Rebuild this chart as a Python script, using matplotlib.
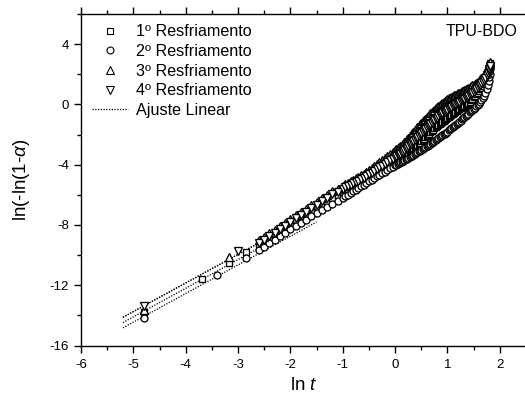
import matplotlib
matplotlib.use("Agg")
import matplotlib.pyplot as plt
from matplotlib.ticker import MultipleLocator
import numpy as np

plt.rcParams['font.family'] = ['Liberation Sans', 'DejaVu Sans']
plt.rcParams['mathtext.fontset'] = 'custom'
plt.rcParams['mathtext.rm'] = 'Liberation Sans'
plt.rcParams['mathtext.it'] = 'Liberation Sans:italic'
plt.rcParams['axes.unicode_minus'] = False

# ---- data: ln t (min) and ln(-ln(1-alpha)) for four cooling runs ----
labels = ["1º Resfriamento", "2º Resfriamento", "3º Resfriamento", "4º Resfriamento"]

# first, sparse points of each run
early_x_1 = [-4.79, -3.69, -3.18, -2.84]
early_y_1 = [-13.80, -11.60, -10.55, -9.80]
early_x_2 = [-4.79, -3.40, -2.84]
early_y_2 = [-14.15, -11.35, -10.20]
early_x_3 = [-4.79, -3.18]
early_y_3 = [-13.65, -10.15]
early_x_4 = [-4.79, -3.00]
early_y_4 = [-13.35, -9.75]

# common ln t sampling of the dense part of the runs
lnt = [-2.6, -2.5, -2.4, -2.3, -2.2, -2.1, -2.0, -1.9, -1.8, -1.7, -1.6, -1.5,
       -1.4, -1.3, -1.2, -1.1,
       -1.0, -0.95, -0.9, -0.85, -0.8, -0.75, -0.7, -0.65, -0.6, -0.55, -0.5,
       -0.45, -0.4, -0.35, -0.3, -0.25, -0.2, -0.15, -0.1, -0.05,
       0.0, 0.025, 0.05, 0.075, 0.1, 0.125, 0.15, 0.175, 0.2, 0.225, 0.25,
       0.275, 0.3, 0.325, 0.35, 0.375, 0.4, 0.425, 0.45, 0.475, 0.5, 0.525,
       0.55, 0.575, 0.6, 0.625, 0.65, 0.675, 0.7, 0.725, 0.75, 0.775, 0.8,
       0.825, 0.85, 0.875, 0.9, 0.925, 0.95, 0.975, 1.0, 1.025, 1.05, 1.075,
       1.1, 1.125, 1.15, 1.175, 1.2, 1.225, 1.25, 1.275, 1.3, 1.325, 1.35,
       1.375, 1.4, 1.425, 1.45, 1.475, 1.5, 1.525, 1.55, 1.575, 1.6, 1.625,
       1.65, 1.675, 1.7, 1.725, 1.75, 1.775,
       1.79, 1.8, 1.81, 1.82]

run_1 = [-9.45, -9.23, -9.00, -8.77, -8.53, -8.29, -8.05, -7.82, -7.59, -7.36,
         -7.13, -6.90, -6.67, -6.45, -6.22, -6.03,
         -5.85, -5.76, -5.67, -5.58, -5.49, -5.40, -5.31, -5.22, -5.13, -5.02,
         -4.90, -4.80, -4.69, -4.59, -4.47, -4.37, -4.26, -4.16, -4.05, -3.95,
         -3.84, -3.80, -3.755, -3.71, -3.66, -3.60, -3.535, -3.46, -3.38, -3.30,
         -3.225, -3.15, -3.07, -2.99, -2.915, -2.84, -2.76, -2.68, -2.605,
         -2.53, -2.45, -2.36, -2.27, -2.185, -2.10, -2.015, -1.93, -1.845,
         -1.76, -1.675, -1.59, -1.51, -1.43, -1.35, -1.28, -1.21, -1.14,
         -1.08, -1.02, -0.96, -0.90, -0.835, -0.77, -0.70, -0.64, -0.57,
         -0.51, -0.45, -0.39, -0.33, -0.27, -0.21, -0.15, -0.09, -0.025,
         0.035, 0.10, 0.19, 0.28, 0.37, 0.47, 0.57, 0.67, 0.77, 0.88, 1.00,
         1.12, 1.25, 1.38, 1.57, 1.77, 2.00,
         2.20, 2.40, 2.60, 2.78]

run_2 = [-9.65, -9.43, -9.20, -8.98, -8.75, -8.52, -8.30, -8.08, -7.86, -7.65,
         -7.43, -7.22, -7.00, -6.80, -6.60, -6.40,
         -6.20, -6.09, -5.98, -5.87, -5.76, -5.65, -5.54, -5.43, -5.32, -5.21,
         -5.10, -4.99, -4.88, -4.78, -4.67, -4.57, -4.46, -4.36, -4.25, -4.15,
         -4.05, -4.00, -3.95, -3.90, -3.85, -3.80, -3.75, -3.70, -3.65, -3.60,
         -3.55, -3.50, -3.45, -3.395, -3.34, -3.285, -3.23, -3.175, -3.12,
         -3.065, -3.01, -2.955, -2.90, -2.845, -2.79, -2.735, -2.68, -2.625,
         -2.57, -2.51, -2.45, -2.385, -2.32, -2.255, -2.19, -2.125, -2.06,
         -1.995, -1.93, -1.865, -1.80, -1.73, -1.66, -1.585, -1.51, -1.44,
         -1.37, -1.295, -1.22, -1.145, -1.07, -0.995, -0.92, -0.84, -0.76,
         -0.685, -0.61, -0.53, -0.45, -0.375, -0.30, -0.215, -0.13, -0.04,
         0.05, 0.16, 0.28, 0.41, 0.55, 0.76, 1.00, 1.30,
         1.55, 1.80, 2.05, 2.35]

run_3 = [-9.00, -8.78, -8.55, -8.32, -8.08, -7.84, -7.60, -7.37, -7.14, -6.91,
         -6.68, -6.45, -6.22, -6.00, -5.77, -5.58,
         -5.40, -5.30, -5.20, -5.10, -5.00, -4.90, -4.80, -4.70, -4.60, -4.48,
         -4.35, -4.22, -4.09, -3.96, -3.82, -3.69, -3.56, -3.43, -3.30, -3.17,
         -3.04, -2.975, -2.91, -2.84, -2.77, -2.69, -2.60, -2.50, -2.40, -2.30,
         -2.20, -2.10, -2.00, -1.90, -1.80, -1.70, -1.60, -1.50, -1.40, -1.30,
         -1.20, -1.11, -1.02, -0.935, -0.85, -0.765, -0.68, -0.595, -0.51,
         -0.425, -0.34, -0.26, -0.18, -0.10, -0.03, 0.04, 0.11, 0.17, 0.23,
         0.29, 0.35, 0.40, 0.45, 0.50, 0.55, 0.60, 0.645, 0.69, 0.735, 0.78,
         0.825, 0.87, 0.915, 0.96, 1.005, 1.05, 1.10, 1.15, 1.205, 1.26, 1.32,
         1.38, 1.445, 1.51, 1.58, 1.66, 1.745, 1.835, 1.93, 2.04, 2.16, 2.30,
         2.42, 2.55, 2.68, 2.80]

run_4 = [-9.20, -8.98, -8.75, -8.52, -8.28, -8.04, -7.80, -7.57, -7.34, -7.11,
         -6.88, -6.65, -6.42, -6.20, -5.97, -5.78,
         -5.60, -5.51, -5.42, -5.33, -5.24, -5.15, -5.06, -4.97, -4.88, -4.77,
         -4.65, -4.54, -4.42, -4.31, -4.18, -4.07, -3.95, -3.84, -3.72, -3.61,
         -3.49, -3.44, -3.385, -3.33, -3.27, -3.20, -3.125, -3.04, -2.95, -2.86,
         -2.775, -2.69, -2.60, -2.51, -2.425, -2.34, -2.25, -2.16, -2.075,
         -1.99, -1.90, -1.81, -1.72, -1.635, -1.55, -1.465, -1.38, -1.295,
         -1.21, -1.125, -1.04, -0.96, -0.88, -0.80, -0.73, -0.66, -0.59,
         -0.53, -0.47, -0.41, -0.35, -0.29, -0.23, -0.17, -0.11, -0.05, 0.00,
         0.055, 0.11, 0.165, 0.22, 0.27, 0.33, 0.38, 0.435, 0.49, 0.55, 0.62,
         0.70, 0.77, 0.85, 0.935, 1.02, 1.105, 1.195, 1.30, 1.40, 1.515, 1.63,
         1.77, 1.92, 2.08,
         2.22, 2.35, 2.46, 2.55]

# Avrami linear fits: ln(-ln(1-alpha)) = ln k + n ln t
fit_n = [1.9, 1.9, 1.9, 1.9]
fit_lnk = [-4.60, -4.95, -4.25, -4.25]
fit_range = [-5.2, -1.5]

markers = ['s', 'o', '^', 'v']
sizes = [4.3, 5.0, 5.3, 5.3]

fig = plt.figure(figsize=(5.25, 3.97), dpi=100)
ax = fig.add_axes([0.1543, 0.1297, 0.8476, 0.835])

xf = np.array(fit_range)
for i, (n, lnk) in enumerate(zip(fit_n, fit_lnk)):
    ax.plot(xf, lnk + n * xf, linestyle=(0, (1, 1.2)), color='black', lw=0.9,
            label='Ajuste Linear' if i == 0 else None, zorder=1)

early_x = [early_x_1, early_x_2, early_x_3, early_x_4]
early_y = [early_y_1, early_y_2, early_y_3, early_y_4]
runs = [run_1, run_2, run_3, run_4]
handles = []
for i in range(4):
    x = list(early_x[i]) + lnt
    y = list(early_y[i]) + runs[i]
    h, = ax.plot(x, y, linestyle='none', marker=markers[i], markersize=sizes[i],
                 markerfacecolor='white', markeredgecolor='black',
                 markeredgewidth=0.95, label=labels[i], zorder=2 + i)
    handles.append(h)

line_handle = ax.get_lines()[0]
leg = ax.legend(handles + [line_handle], labels + ['Ajuste Linear'],
                loc='upper left', bbox_to_anchor=(0.0, 1.003), frameon=False,
                fontsize=11.6, handlelength=2.2, handletextpad=0.5,
                labelspacing=0.29, borderaxespad=0.3)
for h in leg.legend_handles[:4]:
    h.set_markeredgewidth(0.8)

ax.text(0.982, 0.947, 'TPU-BDO', transform=ax.transAxes, ha='right', va='center',
        fontsize=11.5)

ax.set_xlim(-6, 2.5)
ax.set_ylim(-16, 6)
ax.xaxis.set_major_locator(MultipleLocator(1))
ax.xaxis.set_minor_locator(MultipleLocator(0.5))
ax.yaxis.set_major_locator(MultipleLocator(4))
ax.yaxis.set_minor_locator(MultipleLocator(2))
ax.set_yticks([-16, -12, -8, -4, 0, 4])

ax.tick_params(which='both', direction='out', top=True, right=False,
               labelsize=9.5, width=1.0)
ax.tick_params(axis='x', pad=5)
ax.tick_params(which='major', length=5)
ax.tick_params(which='minor', length=3)
for s in ax.spines.values():
    s.set_linewidth(1.0)

ax.set_xlabel('ln $\\mathit{t}$', fontsize=13.5, labelpad=4)
ax.set_ylabel('ln(-ln(1-$\\mathit{\\alpha}$)', fontsize=13.5, labelpad=13)

fig.savefig('out.png', dpi=100)
